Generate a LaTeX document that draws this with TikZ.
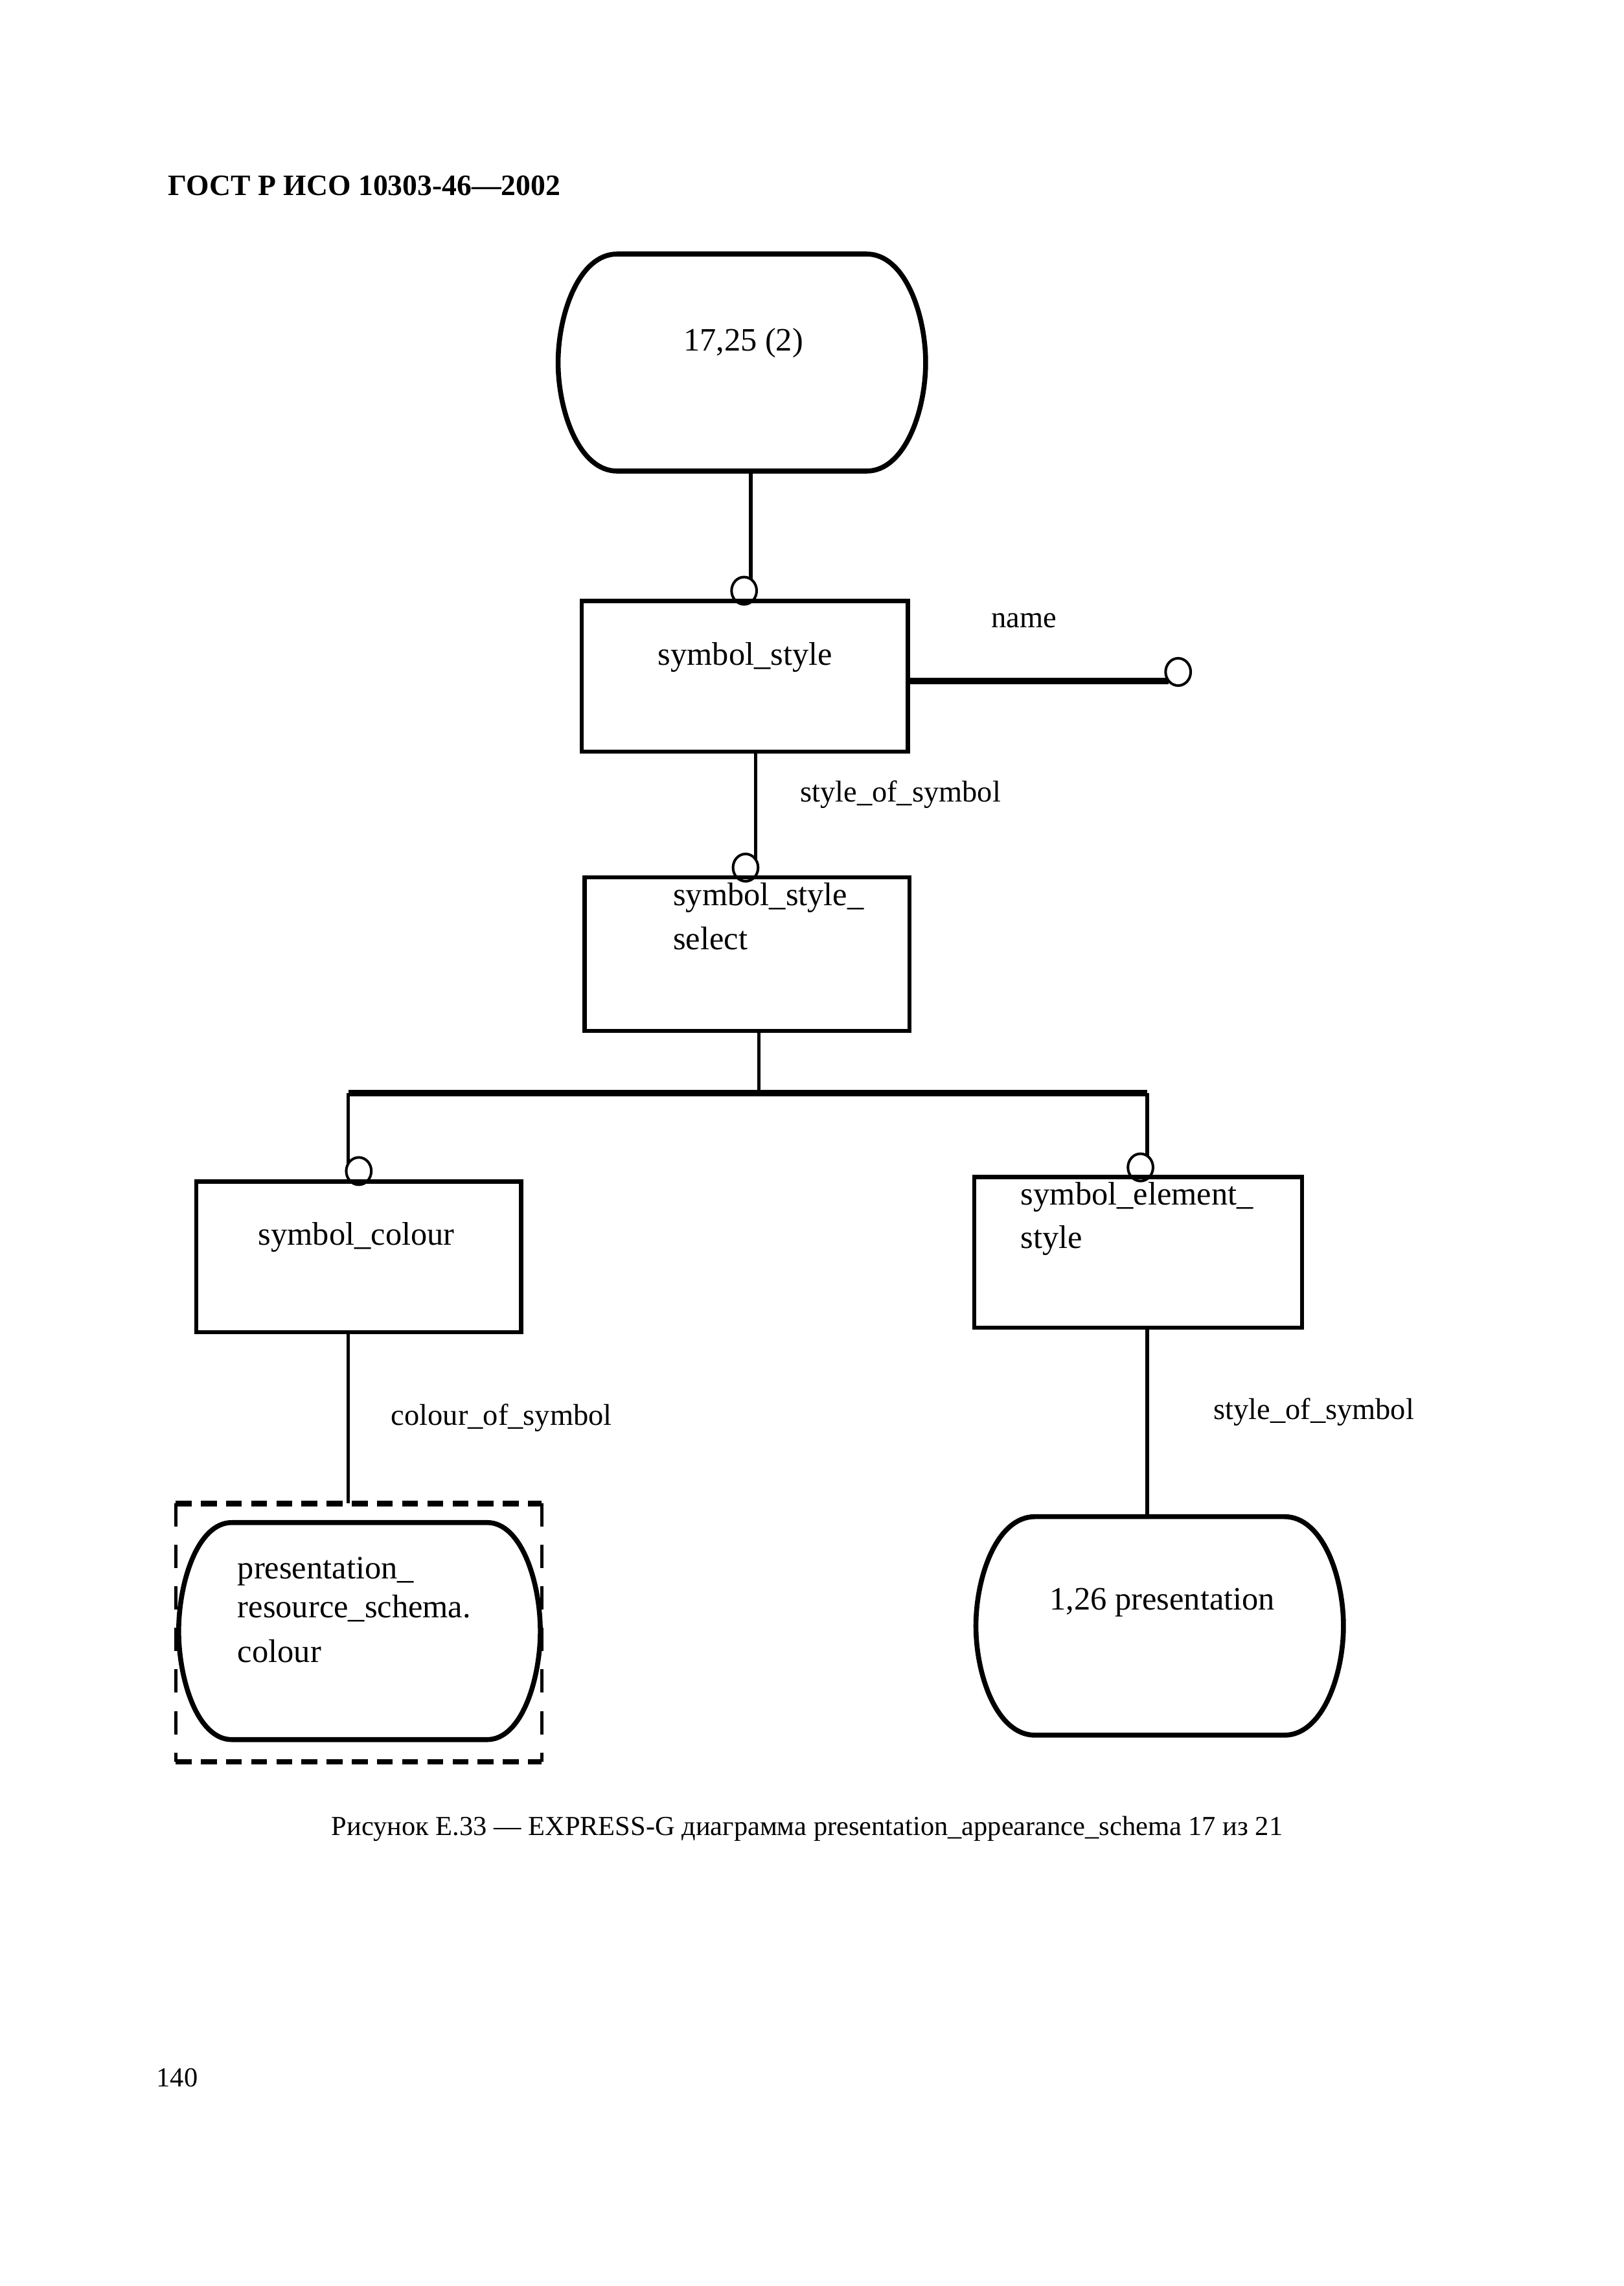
\documentclass[tikz,border=0pt]{standalone}
\usepackage{fontspec}
\setmainfont{Liberation Serif}
\usetikzlibrary{calc,shapes.geometric}

\tikzset{
  lbl/.style={inner sep=0pt, outer sep=0pt, font=\fontsize{12.6}{15}\selectfont},
  attlbl/.style={inner sep=0pt, outer sep=0pt, font=\fontsize{11.6}{14}\selectfont},
  captxt/.style={inner sep=0pt, outer sep=0pt, font=\fontsize{10.6}{12}\selectfont},
  hdr/.style={inner sep=0pt, outer sep=0pt, font=\fontsize{11.4}{13}\selectfont\bfseries},
  entbox/.style={draw, line width=1.6pt, inner sep=0pt, outer sep=0pt},
  frame/.style={draw=none, inner sep=0pt, outer sep=0pt},
  outl/.style={line width=1.9pt, line join=round},
  ring/.style={draw, ellipse, line width=1pt, inner sep=0pt, outer sep=0pt,
               minimum width=0.34cm, minimum height=0.37cm},
  rel/.style={line width=1.3pt},
  relthick/.style={line width=2.5pt},
  dashh/.style={line width=2.2pt, dash pattern=on 6.1pt off 3.6pt},
  dashv/.style={line width=1.3pt, dash pattern=on 9pt off 7pt},
}

\newcommand{\barrelshape}[2]{%
  \draw[outl] ($(#1.north west)+(#2,0)$) -- ($(#1.north east)+(-#2,0)$)
    .. controls ($(#1.north east)+(-0.35*#2,0)$) and ($(#1.north east)+(0,41)$) .. (#1.east)
    .. controls ($(#1.south east)+(0,-41)$) and ($(#1.south east)+(-0.35*#2,0)$) .. ($(#1.south east)+(-#2,0)$)
    -- ($(#1.south west)+(#2,0)$)
    .. controls ($(#1.south west)+(0.35*#2,0)$) and ($(#1.south west)+(0,-41)$) .. (#1.west)
    .. controls ($(#1.north west)+(0,41)$) and ($(#1.north west)+(0.35*#2,0)$) .. cycle;
}

\begin{document}
\begin{tikzpicture}[x=0.02cm, y=-0.02cm]
\useasboundingbox (0,0) rectangle (1100,1548);

% header
\node[hdr, anchor=base west] (hdr) at (114,132.4) {ГОСТ Р ИСО 10303-46—2002};

% shapes
\node[frame, minimum width=4.98cm, minimum height=2.94cm] (T1) at (502.5,245.5) {};
\barrelshape{T1}{40}
\node[lbl, anchor=base] (T1txt) at (503.5,237.5) {17,25 (2)};

\node[entbox, minimum width=4.42cm, minimum height=2.04cm] (B1) at (504.5,458) {};
\node[lbl, anchor=base west] (B1txt) at (445.7,450.5) {symbol\_style};

\node[entbox, minimum width=4.40cm, minimum height=2.08cm] (B3) at (506,646) {};
\node[lbl, anchor=base west] (B3txta) at (456,613) {symbol\_style\_};
\node[lbl, anchor=base west] (B3txtb) at (456,643) {select};

\node[entbox, minimum width=4.40cm, minimum height=2.04cm] (B2) at (243,851) {};
\node[lbl, anchor=base west] (B2txt) at (175,843) {symbol\_colour};

\node[entbox, minimum width=4.44cm, minimum height=2.04cm] (B4) at (771,848) {};
\node[lbl, anchor=base west] (B4txta) at (691.5,816) {symbol\_element\_};
\node[lbl, anchor=base west] (B4txtb) at (691.5,845.5) {style};

\node[frame, minimum width=4.96cm, minimum height=3.50cm] (D) at (243,1105.5) {};
\draw[dashh] (D.north west) -- (D.north east);
\draw[dashh] (D.south west) -- (D.south east);
\draw[dashv] (D.north west) -- (D.south west);
\draw[dashv] (D.north east) -- (D.south east);

\node[frame, minimum width=4.90cm, minimum height=2.94cm] (T2) at (243.5,1104.5) {};
\barrelshape{T2}{36}
\node[lbl, anchor=base west] (T2txta) at (161,1069.2) {presentation\_};
\node[lbl, anchor=base west] (T2txtb) at (161,1095.5) {resource\_schema.};
\node[lbl, anchor=base west] (T2txtc) at (161,1125.5) {colour};

\node[frame, minimum width=4.98cm, minimum height=2.96cm] (T3) at (785.5,1101) {};
\barrelshape{T3}{40}
\node[lbl, anchor=base west] (T3txt) at (711,1090) {1,26 presentation};

% rings
\node[ring] (c1) at (504,400) {};
\node[ring] (c2) at (798,455) {};
\node[ring] (c3) at (505,587.5) {};
\node[ring] (c4) at (243,793) {};
\node[ring] (c5) at (772.5,790.5) {};

% connectors
\draw[rel] (c1.60) -- (c1.60 |- T1.south);
\draw[relthick] (B1.east |- c2.225) -- (c2.225);
\draw[rel] (B1.south -| c3.40) -- (c3.40);
\coordinate (bj) at (514,740);
\draw[rel] (B3.south -| bj) -- (bj);
\draw[relthick] (bj -| c4.145) -- (bj -| c5.60);
\draw[rel] (bj -| c4.145) -- (c4.145);
\draw[rel] (bj -| c5.60) -- (c5.60);
\draw[rel] (B2.south -| c4.145) -- (D.north -| c4.145);
\draw[rel] (B4.south -| c5.60) -- (T3.north -| c5.60);

% attribute labels
\node[attlbl, anchor=base] (lname) at (693.5,425) {name};
\node[attlbl, anchor=base west] (lsos1) at (542,543) {style\_of\_symbol};
\node[attlbl, anchor=base west] (lcos) at (265,965) {colour\_of\_symbol};
\node[attlbl, anchor=base west] (lsos2) at (822,961) {style\_of\_symbol};

% caption and page number
\node[captxt, anchor=base west] (caption) at (224.6,1243) {Рисунок Е.33 — EXPRESS-G диаграмма presentation\_appearance\_schema 17 из 21};
\node[captxt, anchor=base west] (pageno) at (106,1413) {140};
\end{tikzpicture}
\end{document}
